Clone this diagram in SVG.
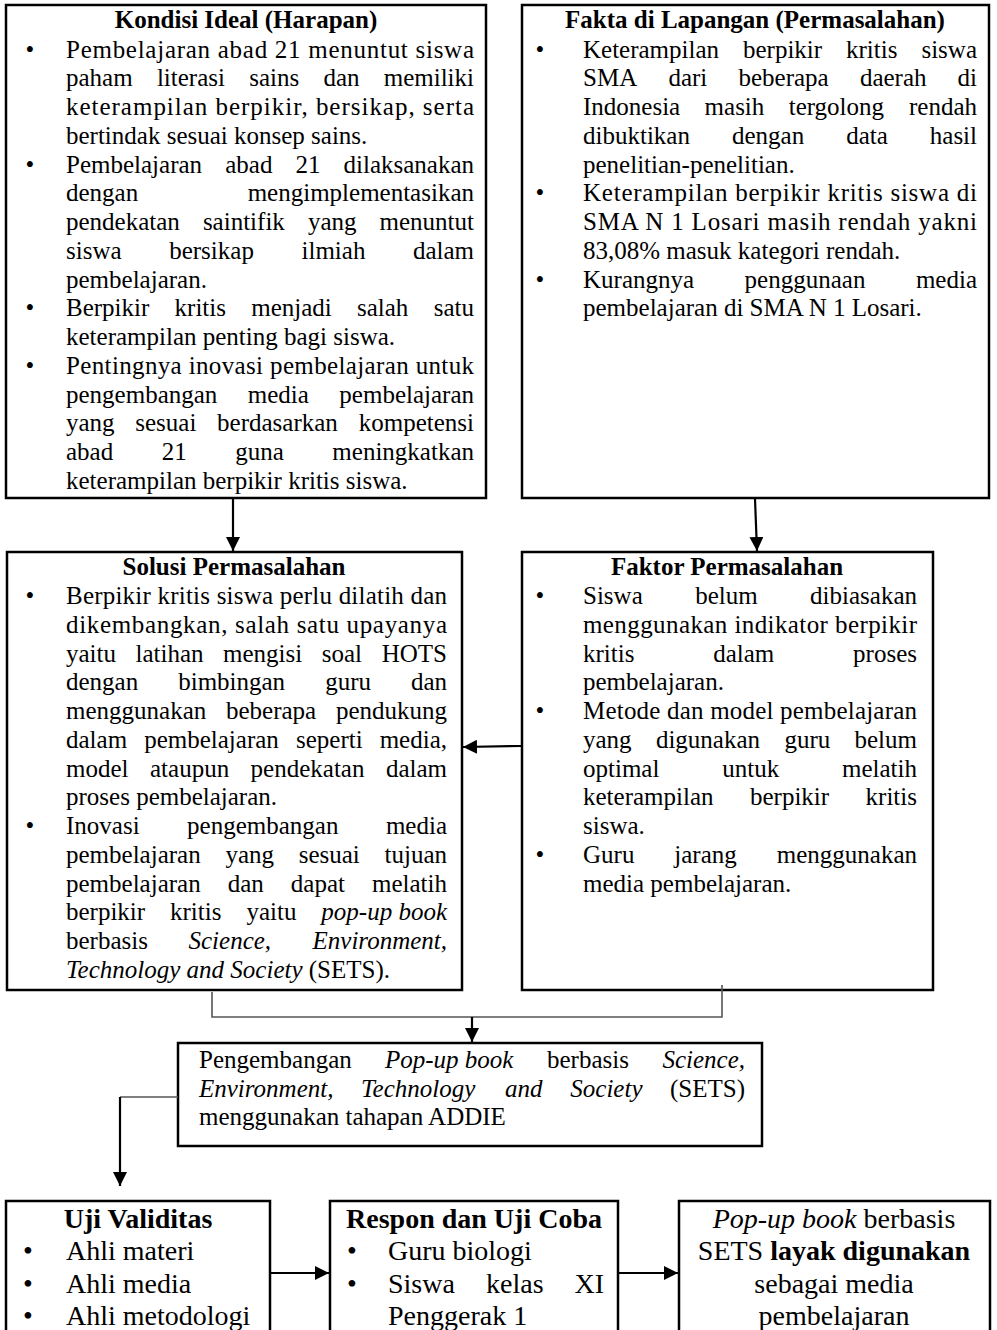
<svg xmlns="http://www.w3.org/2000/svg" width="997" height="1330" viewBox="0 0 997 1330">
<style>
.t{font-family:"Liberation Serif","Times New Roman",serif;font-size:25px;fill:#000}
.s{font-size:28px}
.b{font-weight:bold}
.i{font-style:italic}
.e{text-anchor:end}
.m{text-anchor:middle}
.box{fill:#fff;stroke:#000;stroke-width:2.5}
.ln{stroke:#000;stroke-width:2.2;fill:none}
.gl{stroke:#555;stroke-width:1.6;fill:none}
</style>
<defs>
<marker id="ah" markerUnits="userSpaceOnUse" markerWidth="14" markerHeight="14" viewBox="0 0 14 14" refX="14" refY="7" orient="auto">
<path d="M0,0 L14,7 L0,14 z" fill="#000"/>
</marker>
</defs>
<rect width="997" height="1330" fill="#fff"/>

<g id="kondisi-ideal">
<rect class="box" x="6" y="5" width="480" height="493"/>
<text class="t b m" x="246" y="28">Kondisi Ideal (Harapan)</text>
<text class="t m" x="30" y="57.5">•</text>
<text class="t" x="66" y="57.5" textLength="408" lengthAdjust="spacing">Pembelajaran abad 21 menuntut siswa</text>
<text class="t" x="66" y="86.25">paham</text><text class="t" x="156.9" y="86.25">literasi</text><text class="t" x="249.2" y="86.25">sains</text><text class="t" x="323.4" y="86.25">dan</text><text class="t e" x="474" y="86.25">memiliki</text>
<text class="t" x="66" y="115" textLength="408" lengthAdjust="spacing">keterampilan berpikir, bersikap, serta</text>
<text class="t" x="66" y="143.75">bertindak sesuai konsep sains.</text>
<text class="t m" x="30" y="172.5">•</text>
<text class="t" x="66" y="172.5">Pembelajaran</text><text class="t" x="225.2" y="172.5">abad</text><text class="t" x="295.5" y="172.5">21</text><text class="t e" x="474" y="172.5">dilaksanakan</text>
<text class="t" x="66" y="201.25">dengan</text><text class="t e" x="474" y="201.25">mengimplementasikan</text>
<text class="t" x="66" y="230">pendekatan</text><text class="t" x="202.9" y="230">saintifik</text><text class="t" x="307.9" y="230">yang</text><text class="t e" x="474" y="230">menuntut</text>
<text class="t" x="66" y="258.75">siswa</text><text class="t" x="169.2" y="258.75">bersikap</text><text class="t" x="301.5" y="258.75">ilmiah</text><text class="t e" x="474" y="258.75">dalam</text>
<text class="t" x="66" y="287.5">pembelajaran.</text>
<text class="t m" x="30" y="316.25">•</text>
<text class="t" x="66" y="316.25">Berpikir</text><text class="t" x="174.6" y="316.25">kritis</text><text class="t" x="251.2" y="316.25">menjadi</text><text class="t" x="357" y="316.25">salah</text><text class="t e" x="474" y="316.25">satu</text>
<text class="t" x="66" y="345">keterampilan penting bagi siswa.</text>
<text class="t m" x="30" y="373.75">•</text>
<text class="t" x="66" y="373.75" textLength="408" lengthAdjust="spacing">Pentingnya inovasi pembelajaran untuk</text>
<text class="t" x="66" y="402.5">pengembangan</text><text class="t" x="247.8" y="402.5">media</text><text class="t e" x="474" y="402.5">pembelajaran</text>
<text class="t" x="66" y="431.25">yang</text><text class="t" x="135.3" y="431.25">sesuai</text><text class="t" x="217.1" y="431.25">berdasarkan</text><text class="t e" x="474" y="431.25">kompetensi</text>
<text class="t" x="66" y="460">abad</text><text class="t" x="161.7" y="460">21</text><text class="t" x="235.2" y="460">guna</text><text class="t e" x="474" y="460">meningkatkan</text>
<text class="t" x="66" y="488.75">keterampilan berpikir kritis siswa.</text>
</g>

<g id="fakta-lapangan">
<rect class="box" x="522" y="5" width="467" height="493"/>
<text class="t b m" x="755" y="28">Fakta di Lapangan (Permasalahan)</text>
<text class="t m" x="540" y="57.5">•</text>
<text class="t" x="583" y="57.5">Keterampilan</text><text class="t" x="743" y="57.5">berpikir</text><text class="t" x="846" y="57.5">kritis</text><text class="t e" x="977" y="57.5">siswa</text>
<text class="t" x="583" y="86.25">SMA</text><text class="t" x="668.4" y="86.25">dari</text><text class="t" x="738.5" y="86.25">beberapa</text><text class="t" x="859.9" y="86.25">daerah</text><text class="t e" x="977" y="86.25">di</text>
<text class="t" x="583" y="115">Indonesia</text><text class="t" x="704.6" y="115">masih</text><text class="t" x="788.7" y="115">tergolong</text><text class="t e" x="977" y="115">rendah</text>
<text class="t" x="583" y="143.75">dibuktikan</text><text class="t" x="732" y="143.75">dengan</text><text class="t" x="846.2" y="143.75">data</text><text class="t e" x="977" y="143.75">hasil</text>
<text class="t" x="583" y="172.5">penelitian-penelitian.</text>
<text class="t m" x="540" y="201.25">•</text>
<text class="t" x="583" y="201.25" textLength="394" lengthAdjust="spacing">Keterampilan berpikir kritis siswa di</text>
<text class="t" x="583" y="230" textLength="394" lengthAdjust="spacing">SMA N 1 Losari masih rendah yakni</text>
<text class="t" x="583" y="258.75">83,08% masuk kategori rendah.</text>
<text class="t m" x="540" y="287.5">•</text>
<text class="t" x="583" y="287.5">Kurangnya</text><text class="t" x="744.6" y="287.5">penggunaan</text><text class="t e" x="977" y="287.5">media</text>
<text class="t" x="583" y="316.25">pembelajaran di SMA N 1 Losari.</text>
</g>

<g id="solusi-permasalahan">
<rect class="box" x="7" y="552" width="455" height="438"/>
<text class="t b m" x="234" y="575">Solusi Permasalahan</text>
<text class="t m" x="30" y="604">•</text>
<text class="t" x="66" y="604" textLength="381" lengthAdjust="spacing">Berpikir kritis siswa perlu dilatih dan</text>
<text class="t" x="66" y="632.75" textLength="381" lengthAdjust="spacing">dikembangkan, salah satu upayanya</text>
<text class="t" x="66" y="661.5">yaitu</text><text class="t" x="135.5" y="661.5">latihan</text><text class="t" x="223" y="661.5">mengisi</text><text class="t" x="321.8" y="661.5">soal</text><text class="t e" x="447" y="661.5">HOTS</text>
<text class="t" x="66" y="690.25">dengan</text><text class="t" x="178.2" y="690.25">bimbingan</text><text class="t" x="325.2" y="690.25">guru</text><text class="t e" x="447" y="690.25">dan</text>
<text class="t" x="66" y="719">menggunakan</text><text class="t" x="226" y="719">beberapa</text><text class="t e" x="447" y="719">pendukung</text>
<text class="t" x="66" y="747.75">dalam</text><text class="t" x="144.2" y="747.75">pembelajaran</text><text class="t" x="296" y="747.75">seperti</text><text class="t e" x="447" y="747.75">media,</text>
<text class="t" x="66" y="776.5">model</text><text class="t" x="150" y="776.5">ataupun</text><text class="t" x="250.6" y="776.5">pendekatan</text><text class="t e" x="447" y="776.5">dalam</text>
<text class="t" x="66" y="805.25">proses pembelajaran.</text>
<text class="t m" x="30" y="834">•</text>
<text class="t" x="66" y="834">Inovasi</text><text class="t" x="187.1" y="834">pengembangan</text><text class="t e" x="447" y="834">media</text>
<text class="t" x="66" y="862.75">pembelajaran</text><text class="t" x="225.4" y="862.75">yang</text><text class="t" x="298.7" y="862.75">sesuai</text><text class="t e" x="447" y="862.75">tujuan</text>
<text class="t" x="66" y="891.5">pembelajaran</text><text class="t" x="227.7" y="891.5">dan</text><text class="t" x="290.8" y="891.5">dapat</text><text class="t e" x="447" y="891.5">melatih</text>
<text class="t" x="66" y="920.25">berpikir</text><text class="t" x="170" y="920.25">kritis</text><text class="t" x="246.4" y="920.25">yaitu</text><text class="t i e" x="447" y="920.25">pop-up book</text>
<text class="t" x="66" y="949">berbasis</text><text class="t i" x="188.5" y="949">Science,</text><text class="t i e" x="447" y="949">Environment,</text>
<text class="t" x="66" y="977.75"><tspan class="i">Technology and Society</tspan> (SETS).</text>
</g>

<g id="faktor-permasalahan">
<rect class="box" x="522" y="552" width="411" height="438"/>
<text class="t b m" x="727" y="575">Faktor Permasalahan</text>
<text class="t m" x="540" y="604">•</text>
<text class="t" x="583" y="604">Siswa</text><text class="t" x="695.2" y="604">belum</text><text class="t e" x="917" y="604">dibiasakan</text>
<text class="t" x="583" y="632.75" textLength="334" lengthAdjust="spacing">menggunakan indikator berpikir</text>
<text class="t" x="583" y="661.5">kritis</text><text class="t" x="713.2" y="661.5">dalam</text><text class="t e" x="917" y="661.5">proses</text>
<text class="t" x="583" y="690.25">pembelajaran.</text>
<text class="t m" x="540" y="719">•</text>
<text class="t" x="583" y="719" textLength="334" lengthAdjust="spacing">Metode dan model pembelajaran</text>
<text class="t" x="583" y="747.75">yang</text><text class="t" x="655.9" y="747.75">digunakan</text><text class="t" x="784.4" y="747.75">guru</text><text class="t e" x="917" y="747.75">belum</text>
<text class="t" x="583" y="776.5">optimal</text><text class="t" x="722.2" y="776.5">untuk</text><text class="t e" x="917" y="776.5">melatih</text>
<text class="t" x="583" y="805.25">keterampilan</text><text class="t" x="750" y="805.25">berpikir</text><text class="t e" x="917" y="805.25">kritis</text>
<text class="t" x="583" y="834">siswa.</text>
<text class="t m" x="540" y="862.75">•</text>
<text class="t" x="583" y="862.75">Guru</text><text class="t" x="674.3" y="862.75">jarang</text><text class="t e" x="917" y="862.75">menggunakan</text>
<text class="t" x="583" y="891.5">media pembelajaran.</text>
</g>

<g id="pengembangan">
<rect class="box" x="178" y="1043" width="584" height="103"/>
<text class="t" x="199" y="1068">Pengembangan</text><text class="t i" x="384.9" y="1068">Pop-up book</text><text class="t" x="547" y="1068">berbasis</text><text class="t i e" x="745" y="1068">Science,</text>
<text class="t i" x="199" y="1097">Environment,</text><text class="t i" x="361" y="1097">Technology</text><text class="t i" x="505" y="1097">and</text><text class="t i" x="570.3" y="1097">Society</text><text class="t e" x="745" y="1097">(SETS)</text>
<text class="t" x="199" y="1125">menggunakan tahapan ADDIE</text>
</g>

<g id="uji-validitas">
<rect class="box" x="6" y="1201" width="264" height="140"/>
<text class="t s b m" x="138" y="1228">Uji Validitas</text>
<text class="t s m" x="28" y="1260">•</text>
<text class="t s" x="66" y="1260">Ahli materi</text>
<text class="t s m" x="28" y="1293">•</text>
<text class="t s" x="66" y="1293">Ahli media</text>
<text class="t s m" x="28" y="1325">•</text>
<text class="t s" x="66" y="1325">Ahli metodologi</text>
</g>

<g id="respon-uji-coba">
<rect class="box" x="330" y="1201" width="288" height="140"/>
<text class="t s b m" x="474" y="1228">Respon dan Uji Coba</text>
<text class="t s m" x="352" y="1260">•</text>
<text class="t s" x="388" y="1260">Guru biologi</text>
<text class="t s m" x="352" y="1293">•</text>
<text class="t s" x="388" y="1293">Siswa</text><text class="t s" x="486" y="1293">kelas</text><text class="t s e" x="604" y="1293">XI</text>
<text class="t s" x="388" y="1325">Penggerak 1</text>
</g>

<g id="hasil">
<rect class="box" x="679" y="1201" width="311" height="140"/>
<text class="t s m" x="834" y="1228"><tspan class="i">Pop-up book</tspan> berbasis</text>
<text class="t s m" x="834" y="1260">SETS <tspan class="b">layak digunakan</tspan></text>
<text class="t s m" x="834" y="1293">sebagai media</text>
<text class="t s m" x="834" y="1325">pembelajaran</text>
</g>

<g id="connectors">
<line class="ln" x1="233" y1="499" x2="233" y2="551" marker-end="url(#ah)"/>
<line class="ln" x1="755" y1="499" x2="757" y2="551" marker-end="url(#ah)"/>
<line class="ln" x1="521" y1="746" x2="463" y2="747" marker-end="url(#ah)"/>
<polyline class="gl" points="212,992 212,1017 722,1017 722,985"/>
<line class="ln" x1="472" y1="1017" x2="472" y2="1042" marker-end="url(#ah)"/>
<line class="gl" x1="178" y1="1097" x2="120" y2="1097"/>
<line class="ln" x1="120" y1="1097" x2="120" y2="1186" marker-end="url(#ah)"/>
<line class="ln" x1="271" y1="1273" x2="329" y2="1273" marker-end="url(#ah)"/>
<line class="ln" x1="619" y1="1273" x2="678" y2="1273" marker-end="url(#ah)"/>
</g>
</svg>
